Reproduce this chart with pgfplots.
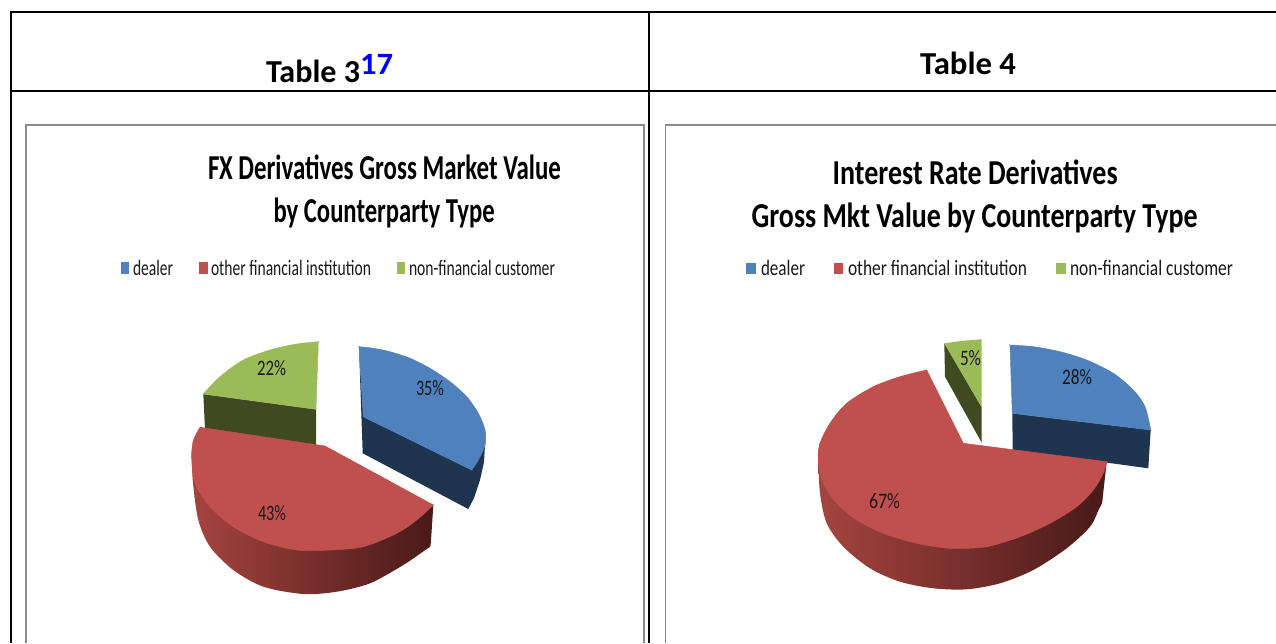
\documentclass[border=0pt]{standalone}
\usepackage{fontspec}
\usepackage{graphicx}
\usepackage{pgfplots}
\pgfplotsset{compat=1.18}
\setmainfont{Carlito}
\definecolor{cblue}{HTML}{4F81BD}
\definecolor{cred}{HTML}{C0504D}
\definecolor{cgreen}{HTML}{9BBB59}
\definecolor{dblue}{HTML}{1F344F}
\definecolor{dgreen}{HTML}{3F4A21}
\definecolor{wallL}{HTML}{A5443F}
\definecolor{wallM}{HTML}{6E2B29}
\definecolor{wallR}{HTML}{481A18}
\definecolor{frameg}{HTML}{8A8A8A}
\definecolor{txt}{HTML}{1A1A1A}
\pgfplotsset{
  sb/.style={fill=cblue,draw=cblue,line width=0.5pt},
  sr/.style={fill=cred,draw=cred,line width=0.5pt},
  sg/.style={fill=cgreen,draw=cgreen,line width=0.5pt},
  wall/.style={left color=wallL,middle color=wallM,right color=wallR,draw=none,smooth},
}
% #1 left x, #2 baseline y, #3 width, #4 font size, #5 text
\newcommand\tx[5]{\node[anchor=base west,inner sep=0pt,outer sep=0pt] at (axis cs:#1,#2) {\resizebox{#3pt}{\height}{\fontsize{#4}{#4}\selectfont #5}};}
\begin{document}
\begin{tikzpicture}
\begin{axis}[scale only axis,width=1276pt,height=643pt,xmin=0,xmax=1276,ymin=0,ymax=643,y dir=reverse,axis lines=none]
% page background (fixes the extent of the picture)
\addplot[fill=white,draw=none] coordinates {(0,0)(1276,0)(1276,643)(0,643)} --cycle;
% table rules
\addplot[black,line width=2pt] coordinates {(10,12)(1276,12)};
\addplot[black,line width=2pt] coordinates {(10,91)(1276,91)};
\addplot[black,line width=2pt] coordinates {(11,12)(11,643)};
\addplot[black,line width=2pt] coordinates {(649,12)(649,643)};
% chart frames
\addplot[frameg,line width=1.6pt] coordinates {(26,643)(26,125)(644,125)(644,643)};
\addplot[frameg,line width=1.6pt] coordinates {(665.5,643)(665.5,125)(1276,125)};
% ---- left pie ----
\addplot[fill=dblue,draw=none] coordinates {(359,347)(362.7,453.3)(468.3,509)(474,498)(480,480)(484,462)(485,445)(485,430)(471.7,470)(363.3,416.7)} --cycle;
\addplot[sb] coordinates {(359,346.7)(471.7,470)(363.3,416.7)} --cycle;
\addplot[sb,smooth] coordinates {(359,346.7)(373.3,348.3)(390,351.7)(410,358.3)(430,368.3)(450,381.7)(466.7,396.7)(478.3,413.3)(485,430)(485,445)(478.3,460)(471.7,470)} --cycle;
\addplot[fill=dgreen,draw=none] coordinates {(203.3,394)(316,409.3)(316,447)(205,430)} --cycle;
\addplot[sg] coordinates {(318.3,341.7)(203.3,394)(316,409.3)} --cycle;
\addplot[sg,smooth] coordinates {(318.3,341.7)(296.7,344)(270,350)(243.3,360)(220,376.7)(203.3,394)} --cycle;
\addplot[wall] coordinates {(191.7,456.7)(193,483.3)(198.3,520)(210,546.7)(233.3,570)(263.3,586.7)(303.3,594)(336.7,591.7)(370,583.3)(403.3,565)(426,549.5)(430,546.7)(431,540)(433.3,505)} --cycle;
\addplot[sr] coordinates {(200,427.3)(325,446)(433.3,505)} --cycle;
\addplot[sr,smooth] coordinates {(200,427.3)(193.5,440)(191.7,456.7)(195,483.3)(210,506.7)(233.3,526.7)(263.3,541.7)(296.7,550)(330,550)(363.3,546.7)(396.7,533.3)(416.7,520)(433.3,505)} --cycle;
% ---- right pie ----
\addplot[fill=dblue,draw=none] coordinates {(1012.3,413.3)(1150.7,430)(1148.3,468.3)(1106,462.5)(1012.7,452)} --cycle;
\addplot[sb] coordinates {(1010,345)(1150.7,430)(1012.3,413.3)} --cycle;
\addplot[sb,smooth] coordinates {(1010,345)(1033.3,346.7)(1060,351.7)(1086.7,360)(1113.3,373.3)(1133.3,390)(1145,406.7)(1150.7,430)} --cycle;
\addplot[fill=dgreen,draw=none] coordinates {(944.3,343.3)(981.7,407.3)(981.7,442.7)(945,376.7)} --cycle;
\addplot[fill=cgreen,draw=none] coordinates {(981.7,339.3)(963.3,340.7)(944.3,343.3)(981.7,407.3)} --cycle;
\addplot[wall] coordinates {(818.3,460)(820,493.3)(826.7,523.3)(843.3,546.7)(870,568.3)(900,581.7)(933.3,588.3)(966.7,589.3)(1000,583.3)(1033.3,570)(1066.7,548.3)(1090,526.7)(1099,509)(1102,503)(1103,495)(1106.7,461.7)} --cycle;
\addplot[sr] coordinates {(963.3,443.3)(926.7,370)(823.3,483.3)(986.7,546.7)(1106.7,461.7)} --cycle;
\addplot[sr,smooth] coordinates {(926.7,370)(900,376.7)(873.3,386.7)(846.7,403.3)(830,423.3)(820,443.3)(818.3,460)(823.3,483.3)} --cycle;
\addplot[sr,smooth] coordinates {(820,443.3)(818.3,460)(823.3,483.3)(836.7,503.3)(856.7,520)(883.3,533.3)(916.7,543.3)(950,548.3)(986.7,546.7)(1020,536.7)} --cycle;
\addplot[sr,smooth] coordinates {(986.7,546.7)(1020,536.7)(1050,523.3)(1076.7,506.7)(1093.3,490)(1103.3,473.3)(1106.7,461.7)} --cycle;
% legend keys
\addplot[fill=cblue,draw=none] coordinates {(120.8,262)(129,262)(129,274)(120.8,274)} --cycle;
\addplot[fill=cred,draw=none] coordinates {(198.6,262)(208,262)(208,274)(198.6,274)} --cycle;
\addplot[fill=cgreen,draw=none] coordinates {(396.5,262)(405,262)(405,274)(396.5,274)} --cycle;
\addplot[fill=cblue,draw=none] coordinates {(746.3,263)(756,263)(756,274)(746.3,274)} --cycle;
\addplot[fill=cred,draw=none] coordinates {(834,263)(843,263)(843,274)(834,274)} --cycle;
\addplot[fill=cgreen,draw=none] coordinates {(1056,263)(1066,263)(1066,274)(1056,274)} --cycle;
% headings
\tx{266}{82}{94}{32}{\bfseries Table 3}
\tx{360}{74}{33}{31}{\bfseries\color{blue}17}
\tx{920}{74}{96}{32}{\bfseries Table 4}
% titles
\tx{208}{179}{353}{35}{\bfseries FX Derivatives Gross Market Value}
\tx{273.6}{222.5}{221}{35}{\bfseries by Counterparty Type}
\tx{832.7}{184.5}{285}{35}{\bfseries Interest Rate Derivatives}
\tx{751.6}{227.5}{446}{35}{\bfseries Gross Mkt Value by Counterparty Type}
% legends
\tx{133}{275}{40}{22}{\color{txt}dealer}
\tx{211}{275}{160}{22}{\color{txt}other financial institution}
\tx{409}{275}{146}{22}{\color{txt}non-financial customer}
\tx{761}{275}{44}{22}{\color{txt}dealer}
\tx{848}{275}{179}{22}{\color{txt}other financial institution}
\tx{1070}{275}{163}{22}{\color{txt}non-financial customer}
% data labels
\tx{257}{375}{29}{22}{\color{txt}22\%}
\tx{416}{395}{28}{22}{\color{txt}35\%}
\tx{258}{520}{28}{22}{\color{txt}43\%}
\tx{1062}{384}{30}{22}{\color{txt}28\%}
\tx{960}{365}{21}{22}{\color{txt}5\%}
\tx{869}{508}{31}{22}{\color{txt}67\%}
\end{axis}
\end{tikzpicture}
\end{document}
